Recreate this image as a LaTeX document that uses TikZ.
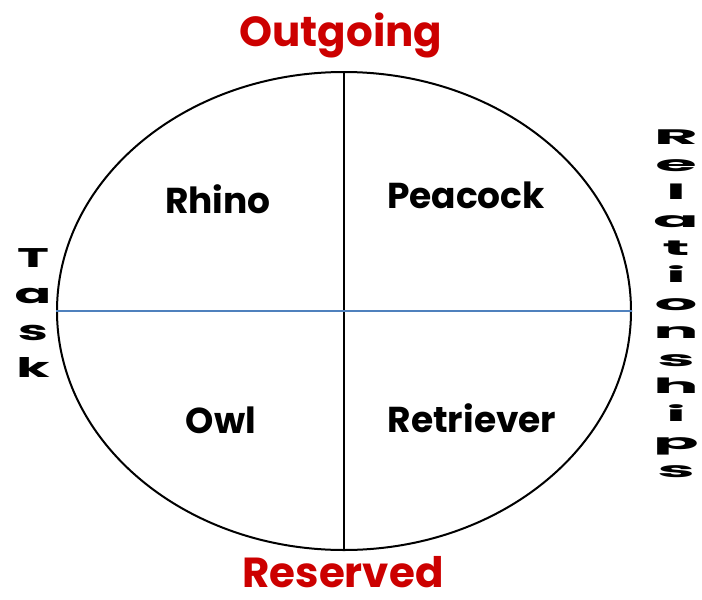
\documentclass[tikz,border=0pt]{standalone}
\usepackage{fontspec}
\setmainfont{Poppins}
\usetikzlibrary{shapes.geometric}
\definecolor{hdred}{HTML}{CC0000}
\definecolor{axblue}{HTML}{4F81BD}
\tikzset{
  head/.style={font=\fontsize{42}{46}\selectfont\bfseries, text=hdred, anchor=base, inner sep=0pt},
  animal/.style={font=\fontsize{36}{40}\selectfont\bfseries, anchor=base, inner sep=0pt},
  taskletter/.style={font=\fontsize{27}{30}\selectfont\bfseries, anchor=base, inner sep=0pt, xscale=2},
  relletter/.style={font=\fontsize{21}{24}\selectfont\bfseries, anchor=base, inner sep=0pt, xscale=3.2},
}
\begin{document}
\begin{tikzpicture}[x=1pt,y=-1pt]
\useasboundingbox (0,0) rectangle (702,600);
\node[draw, line width=2pt, ellipse, minimum width=574pt, minimum height=478pt, inner sep=0pt] (E) at (344,311) {};
\draw[line width=1.6pt] (E.north) -- (E.south);
\draw[line width=1.6pt, axblue] (E.west) -- (E.east);
\node[head] (out) at (341,46) {Outgoing};
\node[head] (res) at (343,587) {Reserved};
\node[animal] (rhino) at (218,213) {Rhino};
\node[animal] (peacock) at (466,208) {Peacock};
\node[animal] (owl) at (221,433) {Owl};
\node[animal] (retriever) at (472,432) {Retriever};
\foreach \ch [count=\i from 0] in {T,a,s,k}
  \node[taskletter] (t\i) at (33,{267+36.7*\i}) {\ch};
\foreach \ch [count=\i from 0] in {R,e,l,a,t,i,o,n,s,h,i,p,s}
  \node[relletter] (r\i) at (676,{144+27.75*\i}) {\ch};
\end{tikzpicture}
\end{document}
